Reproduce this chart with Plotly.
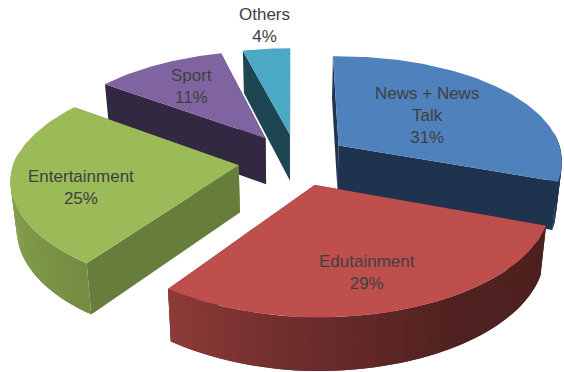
import numpy as np
import plotly.graph_objects as go

# Audience share by radio format
categories = ["News + News Talk", "Edutainment", "Entertainment", "Sport", "Others"]
shares = [31, 29, 25, 11, 4]
label_lines = ["News + News<br>Talk", "Edutainment", "Entertainment", "Sport", "Others"]
top_colors = ["#4F81BD", "#BE4F4C", "#9BBB59", "#8064A2", "#4BA9C5"]
edge_colors = ["#1E334E", "#4E2120", "#677D3B", "#332842", "#1E4652"]

# Direction each slice is pulled out of the pie, relative to its bisector (degrees)
explode_tilt = [1.2, -4.5, -2.4, 3.4, 3.9]
label_x = [427, 367, 81, 191, 264]
label_y = [115, 272, 187, 86, 25]

# Projection of the tilted pie onto the page
WIDTH, HEIGHT = 564, 372
CX, CY = 293, 160
RX, RY = 224, 105.6
PERSPECTIVE = 0.143
EXPLODE = 0.247
THICKNESS = 47
BASE_SCALE = 0.978
FRONT_SHEAR = 6.5
RIGHT_LIFT = 0.014
DRAW_ORDER = [4, 3, 0, 2, 1]


def project(u, v, bottom=False):
    s = 1 / (1 + PERSPECTIVE * v)
    x = CX + RX * u * s + FRONT_SHEAR * np.maximum(-v, 0)
    y = CY - RY * v * s - RIGHT_LIFT * np.maximum(x - CX, 0)
    if bottom:
        x = CX + (x - CX) * BASE_SCALE
        y = CY + (y - CY) * BASE_SCALE + THICKNESS * s
    return x, y


def shade(hex_color, factor):
    r, g, b = (int(hex_color[i:i + 2], 16) for i in (1, 3, 5))
    return f"rgb({r * factor:.0f},{g * factor:.0f},{b * factor:.0f})"


def polygon(xs, ys, color, width=0.0):
    return go.Scatter(
        x=list(xs) + [xs[0]], y=list(ys) + [ys[0]], mode="lines", fill="toself",
        fillcolor=color, line=dict(color=color, width=width),
        hoverinfo="skip", showlegend=False,
    )


def wedge_traces(index, start, end):
    mid = np.radians((start + end) / 2 + explode_tilt[index])
    u0, v0 = EXPLODE * np.sin(mid), EXPLODE * np.cos(mid)
    theta = np.radians(np.linspace(start, end, max(int(end - start) + 1, 2)))
    arc_u, arc_v = u0 + np.sin(theta), v0 + np.cos(theta)

    faces = []
    # Rim of the slice: narrow quads that overlap the next step, so no seams show
    for i in range(len(theta) - 1):
        deg = np.degrees((theta[i] + theta[i + 1]) / 2)
        if np.cos(np.radians(deg)) > 0.1:
            continue
        factor = np.interp(deg, [100, 150, 180, 216, 270], [0.40, 0.42, 0.55, 0.75, 0.90])
        ua, va = arc_u[i:i + 3], arc_v[i:i + 3]
        tx, ty = project(ua, va)
        bx, by = project(ua, va, bottom=True)
        faces.append((va[:2].mean(), list(tx) + list(bx[::-1]), list(ty) + list(by[::-1]),
                      shade(top_colors[index], factor)))
    # The two straight cut faces
    for j in (0, -1):
        ua, va = np.array([u0, arc_u[j]]), np.array([v0, arc_v[j]])
        tx, ty = project(ua, va)
        bx, by = project(ua, va, bottom=True)
        faces.append((va.mean(), list(tx) + list(bx[::-1]), list(ty) + list(by[::-1]),
                      edge_colors[index]))

    traces = [polygon(f[1], f[2], f[3]) for f in sorted(faces, key=lambda f: -f[0])]
    top_x, top_y = project(np.r_[u0, arc_u], np.r_[v0, arc_v])
    traces.append(polygon(top_x, top_y, top_colors[index]))
    return traces


edges = np.r_[0, np.cumsum(shares)] / np.sum(shares) * 360

fig = go.Figure()
for k in DRAW_ORDER:
    fig.add_traces(wedge_traces(k, edges[k], edges[k + 1]))

for k in range(len(categories)):
    fig.add_annotation(
        x=label_x[k], y=label_y[k], xref="x", yref="y", showarrow=False,
        text=f"{label_lines[k]}<br>{shares[k]}%", align="center",
        font=dict(family="Liberation Sans", size=17, color="#404040"),
    )

fig.update_layout(
    width=WIDTH, height=HEIGHT, margin=dict(l=0, r=0, t=0, b=0),
    paper_bgcolor="white", plot_bgcolor="white", showlegend=False,
    xaxis=dict(range=[0, WIDTH], visible=False, fixedrange=True),
    yaxis=dict(range=[HEIGHT, 0], visible=False, fixedrange=True),
)
fig.write_html("out.html", config={"displayModeBar": False})
